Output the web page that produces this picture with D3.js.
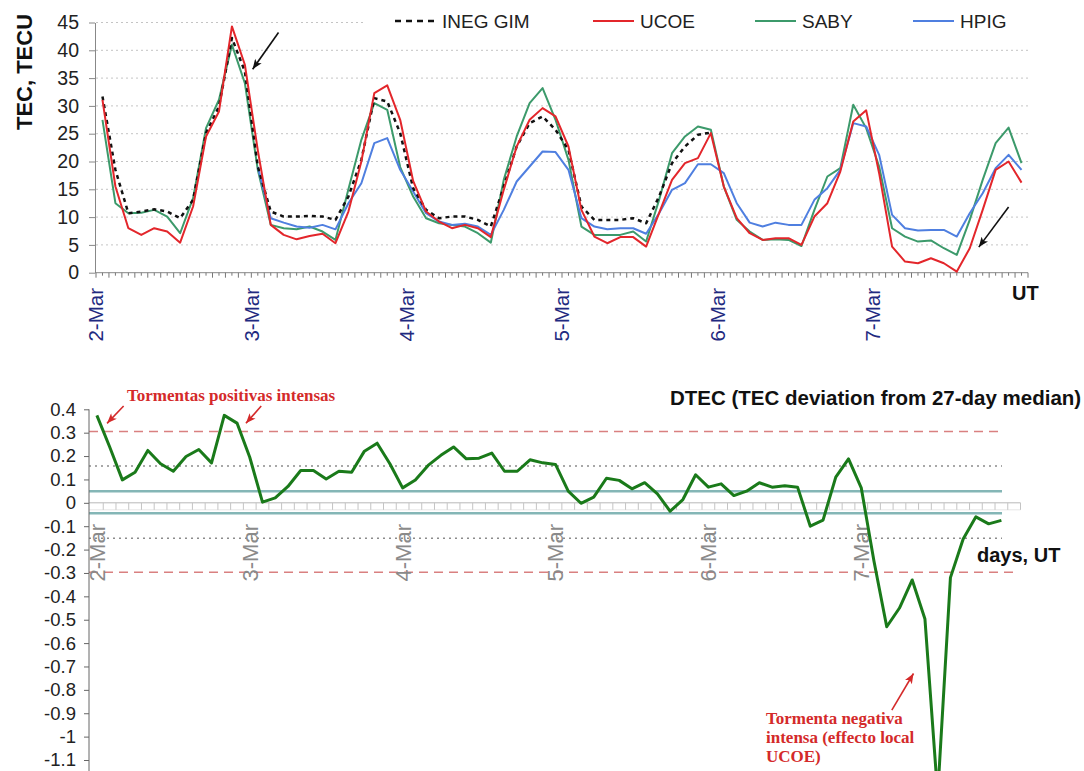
<!DOCTYPE html>
<html>
<head>
<meta charset="utf-8">
<script src="https://cdnjs.cloudflare.com/ajax/libs/d3/7.8.5/d3.min.js"></script>
<style>
body { margin: 0; background: #fff; }
svg { display: block; font-family: "Liberation Sans", Arial, sans-serif; }
</style>
</head>
<body>
<script>
// day labels (both panels)
var days = ["2-Mar", "3-Mar", "4-Mar", "5-Mar", "6-Mar", "7-Mar"];

// TEC, TECU every 2 h (01, 03, ... 23 UT), 2-Mar .. 7-Mar
var inegGim = [31.7, 18.5, 10.7, 11.0, 11.4, 11.0, 9.8, 13.1, 25.1, 29.9, 42.2, 36.2,
    19.1, 11.0, 10.1, 10.1, 10.2, 10.1, 9.5, 13.7, 20.3, 31.4, 30.8, 25.1,
    15.2, 11.3, 9.8, 10.1, 10.1, 9.5, 8.3, 15.5, 22.7, 26.9, 28.1, 25.7,
    22.1, 11.9, 9.5, 9.5, 9.5, 9.8, 8.9, 13.7, 19.7, 22.7, 24.8, 25.2];
var ucoe = [31.1, 15.5, 8.0, 6.8, 8.0, 7.4, 5.4, 11.9, 24.5, 29.0, 44.3, 37.4,
    22.0, 8.6, 6.8, 6.0, 6.6, 7.0, 5.3, 11.0, 20.0, 32.3, 33.7, 27.5,
    16.5, 11.0, 9.2, 8.0, 8.6, 8.0, 6.4, 14.9, 22.7, 27.5, 29.6, 28.1,
    22.7, 11.3, 6.5, 5.3, 6.4, 6.4, 4.7, 10.7, 16.7, 19.7, 20.6, 25.1,
    15.5, 9.8, 7.1, 5.9, 6.2, 6.2, 5.0, 10.1, 12.5, 18.2, 27.2, 29.2,
    17.9, 4.7, 2.0, 1.7, 2.6, 1.7, 0.2, 4.4, 11.3, 18.5, 20.0, 16.2];
var saby = [27.5, 12.5, 10.7, 10.8, 11.3, 10.1, 7.1, 13.4, 26.0, 31.1, 41.0, 34.1,
    18.5, 8.6, 8.0, 7.8, 8.3, 7.4, 5.9, 15.0, 23.9, 30.5, 29.3, 19.0,
    13.7, 9.8, 8.9, 8.6, 8.3, 7.1, 5.4, 16.7, 24.5, 30.5, 33.2, 27.5,
    20.3, 8.3, 6.8, 6.8, 6.8, 7.4, 5.6, 13.1, 21.5, 24.5, 26.3, 25.7,
    15.5, 9.5, 7.4, 5.9, 6.0, 5.9, 4.8, 11.3, 17.3, 18.8, 30.2, 26.0,
    19.1, 8.0, 6.5, 5.6, 5.8, 4.4, 3.2, 9.5, 16.7, 23.3, 26.1, 19.7];
var hpig = [null, null, null, null, null, null, null, null, null, null, null, null,
    19.0, 9.8, 9.0, 8.3, 8.1, 8.6, 7.8, 12.5, 16.1, 23.3, 24.2, 18.5,
    14.6, 10.7, 9.2, 8.6, 8.8, 8.3, 6.8, 11.3, 16.4, 19.1, 21.8, 21.7,
    18.5, 9.8, 8.3, 7.8, 8.0, 8.0, 7.0, 10.7, 14.9, 16.1, 19.5, 19.5,
    17.9, 12.5, 9.0, 8.3, 9.0, 8.6, 8.6, 13.1, 15.2, 18.5, 26.9, 26.3,
    21.2, 10.4, 8.0, 7.6, 7.7, 7.7, 6.5, 10.7, 14.3, 18.8, 21.2, 18.5];

// DTEC every 2 h (00, 02, ... 22 UT)
var dtec = [0.374, 0.24, 0.098, 0.131, 0.224, 0.167, 0.135, 0.198, 0.228, 0.171, 0.374, 0.341,
    0.195, 0.003, 0.021, 0.07, 0.138, 0.138, 0.102, 0.135, 0.131, 0.221, 0.255, 0.167,
    0.064, 0.098, 0.16, 0.203, 0.239, 0.188, 0.191, 0.213, 0.135, 0.135, 0.184, 0.171,
    0.164, 0.05, -0.002, 0.024, 0.105, 0.096, 0.06, 0.086, 0.038, -0.036, 0.014, 0.12,
    0.067, 0.081, 0.031, 0.05, 0.086, 0.067, 0.073, 0.067, -0.1, -0.074, 0.11, 0.188,
    0.064, -0.25, -0.53, -0.45, -0.33, -0.497, -1.25, -0.32, -0.155, -0.06, -0.09, -0.075];

// threshold levels of the DTEC panel
var stormLevels = [0.305, -0.297];
var moderateLevels = [0.157, -0.152];
var quietLevels = [0.05, -0.045];

var topTicks = d3.range(0, 50, 5);
var bottomTicks = d3.range(-11, 5).map(function(d) { return d / 10; });

var series = [
    {name: "INEG GIM", values: inegGim, color: "#111", width: 2.5, dash: "4,4"},
    {name: "UCOE", values: ucoe, color: "#e3262b", width: 2, dash: null},
    {name: "SABY", values: saby, color: "#3c9a6b", width: 2, dash: null},
    {name: "HPIG", values: hpig, color: "#4f7fe0", width: 2, dash: null}
];
var drawOrder = [2, 3, 0, 1];

var width = 1084, height = 771;
var svg = d3.select("body").append("svg")
    .attr("width", width)
    .attr("height", height);

var defs = svg.append("defs");
function marker(id, color) {
    defs.append("marker")
        .attr("id", id)
        .attr("viewBox", "0 0 10 8")
        .attr("refX", 10)
        .attr("refY", 4)
        .attr("markerUnits", "userSpaceOnUse")
        .attr("markerWidth", 11)
        .attr("markerHeight", 8)
        .attr("orient", "auto")
        .append("path")
        .attr("d", "M0,0 L10,4 L0,8 L2.5,4 z")
        .attr("fill", color);
}
marker("arrowK", "#111");
marker("arrowR", "#d42a2a");

// ---------------- top panel ----------------
var t0 = new Date(Date.UTC(2012, 2, 2, 0));
var t1 = new Date(Date.UTC(2012, 2, 8, 0));
var xt = d3.scaleUtc().domain([t0, t1]).range([96, 1028]);
var yt = d3.scaleLinear().domain([0, 45]).range([272.7, 22.5]);
var timeAt = function(i) { return new Date(Date.UTC(2012, 2, 2, 2 * i + 1)); };
var hourX = function(h) { return xt(t0) + h * (xt(t1) - xt(t0)) / 144; };

var topG = svg.append("g");

topG.selectAll(".grid")
    .data(topTicks.filter(function(d) { return d > 0; }))
    .enter().append("line")
    .attr("x1", 96).attr("x2", 1028)
    .attr("y1", function(d) { return yt(d); })
    .attr("y2", function(d) { return yt(d); })
    .attr("stroke", "#c4c4c4")
    .attr("stroke-width", 1)
    .attr("stroke-dasharray", "2,3");

// legend box hides the top grid line
topG.append("rect")
    .attr("x", 365).attr("y", 4).attr("width", 670).attr("height", 30)
    .attr("fill", "#fff");

var yAxisTop = topG.append("g")
    .attr("transform", "translate(95,0)")
    .call(d3.axisLeft(yt).tickValues(topTicks).tickSize(6).tickSizeOuter(0).tickPadding(10));
yAxisTop.select(".domain").attr("stroke", "#888");
yAxisTop.selectAll(".tick line").attr("stroke", "#888");
yAxisTop.selectAll("text")
    .attr("font-family", "'Liberation Sans', Arial, sans-serif")
    .attr("font-size", 19.5)
    .attr("fill", "#222");

// x axis: base line and hourly ticks
topG.append("line")
    .attr("x1", 95).attr("x2", 1028)
    .attr("y1", yt(0)).attr("y2", yt(0))
    .attr("stroke", "#888");
topG.selectAll(".htick")
    .data(d3.utcHour.range(t0, new Date(+t1 + 1)))
    .enter().append("line")
    .attr("x1", function(d) { return xt(d); })
    .attr("x2", function(d) { return xt(d); })
    .attr("y1", yt(0))
    .attr("y2", function(d) { return yt(0) + (d.getUTCHours() % 2 === 0 ? 5 : 3); })
    .attr("stroke", "#777");

topG.selectAll(".daylabel")
    .data(days)
    .enter().append("text")
    .attr("transform", function(d, i) {
        return "translate(" + xt(d3.utcDay.offset(t0, i)) + ",288) rotate(-90)";
    })
    .attr("text-anchor", "end")
    .attr("dy", "0.36em")
    .attr("font-size", 20.5)
    .attr("fill", "#1f2a80")
    .text(function(d) { return d; });

var lineTop = d3.line()
    .defined(function(d) { return d != null; })
    .x(function(d, i) { return xt(timeAt(i)); })
    .y(function(d) { return yt(d); });

drawOrder.forEach(function(k) {
    var s = series[k];
    topG.append("path")
        .datum(s.values)
        .attr("fill", "none")
        .attr("stroke", s.color)
        .attr("stroke-width", s.width)
        .attr("stroke-dasharray", s.dash)
        .attr("stroke-linejoin", "round")
        .attr("d", lineTop);
});

// legend
var legendX = [395, 593, 755, 913];
var legend = topG.selectAll(".legend")
    .data(series)
    .enter().append("g")
    .attr("transform", function(d, i) { return "translate(" + legendX[i] + ",21)"; });
legend.append("line")
    .attr("x1", 0).attr("x2", 41)
    .attr("stroke", function(d) { return d.color; })
    .attr("stroke-width", function(d) { return d.width; })
    .attr("stroke-dasharray", function(d) { return d.dash ? "6,5" : null; });
legend.append("text")
    .attr("x", 47).attr("y", 6.5)
    .attr("font-size", 19)
    .attr("fill", "#222")
    .text(function(d) { return d.name; });

topG.append("text")
    .attr("transform", "translate(32,72) rotate(-90)")
    .attr("text-anchor", "middle")
    .attr("font-size", 22)
    .attr("font-weight", "bold")
    .attr("fill", "#111")
    .text("TEC, TECU");

topG.append("text")
    .attr("x", 1012).attr("y", 300)
    .attr("font-size", 20)
    .attr("font-weight", "bold")
    .attr("fill", "#111")
    .text("UT");

// black arrows (hours from 2-Mar 00 UT, TEC value)
var topArrows = [
    {h1: 28.2, v1: 43.2, h2: 24.2, v2: 36.6},
    {h1: 141, v1: 11.8, h2: 136.4, v2: 4.6}
];
topG.selectAll(".arrow")
    .data(topArrows)
    .enter().append("line")
    .attr("x1", function(d) { return hourX(d.h1); })
    .attr("y1", function(d) { return yt(d.v1); })
    .attr("x2", function(d) { return hourX(d.h2); })
    .attr("y2", function(d) { return yt(d.v2); })
    .attr("stroke", "#111")
    .attr("stroke-width", 1.6)
    .attr("marker-end", "url(#arrowK)");

// ---------------- bottom panel ----------------
var xb = d3.scaleBand().domain(d3.range(73)).range([90.5, 1020.5]);
var xc = function(i) { return xb(0) + (i + 0.5) * xb.step(); };
var yb = d3.scaleLinear().domain([-1.1, 0.4]).range([760, 409.3]);

var botG = svg.append("g");

function levelLines(levels, color, dash, w, ends) {
    botG.selectAll(null)
        .data(levels)
        .enter().append("line")
        .attr("x1", 89)
        .attr("x2", function(d, i) { return ends[i]; })
        .attr("y1", function(d) { return yb(d); })
        .attr("y2", function(d) { return yb(d); })
        .attr("stroke", color)
        .attr("stroke-width", w)
        .attr("stroke-dasharray", dash);
}
levelLines(stormLevels, "#d98080", "9,6", 1.5, [1004, 1013]);
levelLines(moderateLevels, "#8c8c8c", "2,4", 1.5, [1002, 1002]);
levelLines(quietLevels, "#84b6b6", null, 2.5, [1002, 1002]);

// zero line with 2-hourly ticks
botG.append("line")
    .attr("x1", 89).attr("x2", 1020.5)
    .attr("y1", yb(0)).attr("y2", yb(0))
    .attr("stroke", "#b8b8b8");
botG.append("line")
    .attr("x1", 89).attr("x2", 1020.5)
    .attr("y1", yb(0) + 7).attr("y2", yb(0) + 7)
    .attr("stroke", "#e6e6e6");
botG.selectAll(".btick")
    .data(d3.range(1, 74))
    .enter().append("line")
    .attr("x1", function(d) { return xb(0) + d * xb.step(); })
    .attr("x2", function(d) { return xb(0) + d * xb.step(); })
    .attr("y1", yb(0))
    .attr("y2", yb(0) + 7)
    .attr("stroke", "#c4c4c4");

var fmtB = function(d) { return String(Math.round(d * 10) / 10); };
var yAxisBot = botG.append("g")
    .attr("transform", "translate(89,0)")
    .call(d3.axisLeft(yb).tickValues(bottomTicks).tickSize(5).tickSizeOuter(0).tickPadding(8).tickFormat(fmtB));
yAxisBot.select(".domain").remove();
yAxisBot.selectAll(".tick line").attr("stroke", "#666");
yAxisBot.selectAll("text")
    .attr("font-family", "'Liberation Sans', Arial, sans-serif")
    .attr("font-size", 18.5)
    .attr("fill", "#222");
botG.append("line")
    .attr("x1", 89).attr("x2", 89)
    .attr("y1", yb(0.4)).attr("y2", height)
    .attr("stroke", "#666");

botG.selectAll(".bday")
    .data(days)
    .enter().append("text")
    .attr("transform", function(d, i) { return "translate(" + xc(i * 12) + ",524) rotate(-90)"; })
    .attr("text-anchor", "end")
    .attr("dy", "0.36em")
    .attr("font-size", 22)
    .attr("fill", "#8a8a8a")
    .text(function(d) { return d; });

var lineBot = d3.line()
    .x(function(d, i) { return xc(i); })
    .y(function(d) { return yb(d); });

botG.append("path")
    .datum(dtec)
    .attr("fill", "none")
    .attr("stroke", "#1a7a1a")
    .attr("stroke-width", 3)
    .attr("stroke-linejoin", "round")
    .attr("d", lineBot);

botG.append("text")
    .attr("x", 670).attr("y", 405)
    .attr("font-size", 20.5)
    .attr("font-weight", "bold")
    .attr("fill", "#111")
    .text("DTEC (TEC deviation from 27-day median)");

botG.append("text")
    .attr("x", 977).attr("y", 562)
    .attr("font-size", 20)
    .attr("font-weight", "bold")
    .attr("fill", "#111")
    .text("days, UT");

var serif = "'Liberation Serif', 'Times New Roman', serif";
botG.append("text")
    .attr("x", 127).attr("y", 401)
    .attr("font-family", serif)
    .attr("font-size", 17)
    .attr("font-weight", "bold")
    .attr("fill", "#d42a2a")
    .text("Tormentas positivas intensas");

botG.selectAll(".neg")
    .data(["Tormenta negativa", "intensa (effecto local", "UCOE)"])
    .enter().append("text")
    .attr("x", 766)
    .attr("y", function(d, i) { return 724 + i * 19; })
    .attr("font-family", serif)
    .attr("font-size", 17)
    .attr("font-weight", "bold")
    .attr("fill", "#d42a2a")
    .text(function(d) { return d; });

// red arrows (category index, DTEC value)
var botArrows = [
    {i1: 2.1, v1: 0.414, i2: 0.8, v2: 0.34},
    {i1: 12.9, v1: 0.414, i2: 11.7, v2: 0.34},
    {i1: 62.4, v1: -0.887, i2: 64.1, v2: -0.73}
];
botG.selectAll(".rarrow")
    .data(botArrows)
    .enter().append("line")
    .attr("x1", function(d) { return xc(d.i1); })
    .attr("y1", function(d) { return yb(d.v1); })
    .attr("x2", function(d) { return xc(d.i2); })
    .attr("y2", function(d) { return yb(d.v2); })
    .attr("stroke", "#d42a2a")
    .attr("stroke-width", 1.6)
    .attr("marker-end", "url(#arrowR)");
</script>
</body>
</html>
